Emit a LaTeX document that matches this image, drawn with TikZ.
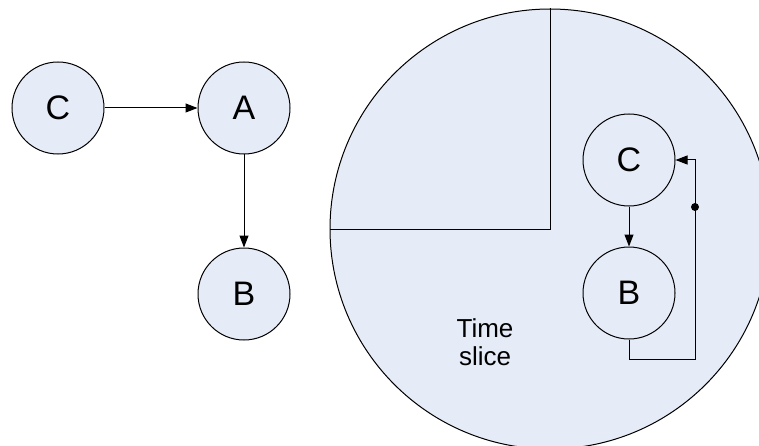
\documentclass[tikz,border=0pt]{standalone}
\usepackage{fontspec}
\setmainfont{Liberation Sans}
\usepackage{tikz}
\usetikzlibrary{shapes,arrows}
\usetikzlibrary{arrows.meta, positioning}
\definecolor{slicefill}{RGB}{230,236,247}

\begin{document}
\begin{tikzpicture}[node distance=93pt, >={Triangle[length=6pt,width=4.5pt]}, line width=0.5pt,
            var/.style={circle, draw, fill=slicefill, minimum size=46pt, inner sep=0pt, font=\fontsize{17}{20}\selectfont}]
            \useasboundingbox (0,0) rectangle (379.5pt,222.5pt);
            \clip (0,0) rectangle (379.5pt,222.5pt);
            % unrolled graph
            \node[var] (1) at (29pt,168.5pt) {C};
            \node[var] (2) [right of=1] {A};
            \node[var] (3) [below of=2] {B};
            \draw[->] (1) -- (2);
            \draw[->] (2) -- (3);

            % time slice
            \node[circle, draw, fill=slicefill, minimum size=220pt, inner sep=0pt] (4) at (275pt,108pt) {};
            \draw (4.north) -- (4.center) -- (4.west);
            \node[align=center, font=\fontsize{13}{14}\selectfont] (8) at (242.5pt,51.5pt) {Time\\slice};
            \node[var] (5) at (314.5pt,142.5pt) {C};
            \node[var] (6) [below of=5, node distance=66.5pt] {B};
            \coordinate (7) at (347.5pt,43pt);
            \coordinate (9) at (347.5pt,119pt);
            \draw[->] (5) -- (6);
            \draw[->] (6.south) |- (7) |- (5.east);
            \fill (9) circle (2pt);
        \end{tikzpicture}
\end{document}
